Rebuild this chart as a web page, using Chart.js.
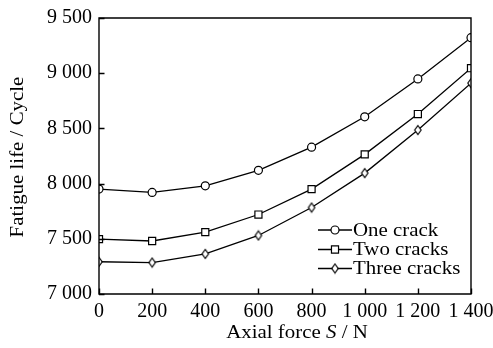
<!DOCTYPE html>
<html>
<head>
<meta charset="utf-8">
<script src="https://cdn.jsdelivr.net/npm/chart.js@4/dist/chart.umd.min.js"></script>
<style>
html,body{margin:0;padding:0;background:#fff;}
#wrap{width:493px;height:348px;position:relative;}
</style>
</head>
<body>
<div id="wrap"><canvas id="c"></canvas></div>
<script>
const axialForce = [0, 200, 400, 600, 800, 1000, 1200, 1400];
const oneCrack = [7950, 7920, 7980, 8120, 8330, 8605, 8948, 9322];
const twoCracks = [7497, 7480, 7560, 7720, 7950, 8265, 8630, 9045];
const threeCracks = [7292, 7285, 7363, 7530, 7783, 8095, 8485, 8910];
const seriesLabels = ['One crack', 'Two cracks', 'Three cracks'];
const xTicks = [0, 200, 400, 600, 800, 1000, 1200, 1400];
const yTicks = [7000, 7500, 8000, 8500, 9000, 9500];

const FONT = '"Liberation Serif", "Times New Roman", serif';
const SX = 1.1; // horizontal stretch for hand-drawn text

function fmt(v){
  v = Math.round(v);
  if (v >= 1000) {
    const s = String(v);
    return s.slice(0, s.length-3) + ' ' + s.slice(-3);
  }
  return String(v);
}

function makeDiamond(){
  const c = document.createElement('canvas');
  c.width = 10; c.height = 12;
  const g = c.getContext('2d');
  g.beginPath();
  g.moveTo(5, 1.5); g.lineTo(8.2, 6); g.lineTo(5, 10.5); g.lineTo(1.8, 6); g.closePath();
  g.fillStyle = '#fff'; g.fill();
  g.lineWidth = 1.2; g.strokeStyle = '#000'; g.stroke();
  return c;
}
const diamond = makeDiamond();

function toPts(arr){ return axialForce.map((x,i)=>({x:x, y:arr[i]})); }

const styles = [
  {pointStyle:'circle', pointRadius:4},
  {pointStyle:'rect', pointRadius:5},
  {pointStyle:diamond, pointRadius:5}
];

const datasets = [oneCrack, twoCracks, threeCracks].map((arr,i)=>({
  label: seriesLabels[i],
  data: toPts(arr),
  borderColor:'#000',
  borderWidth:1.3,
  backgroundColor:'#fff',
  pointBackgroundColor:'#fff',
  pointBorderColor:'#000',
  pointBorderWidth:1.2,
  pointStyle: styles[i].pointStyle,
  pointRadius: styles[i].pointRadius,
  tension:0
}));

function stretchedText(ctx, text, x, y, align){
  ctx.save();
  ctx.translate(x, y);
  ctx.scale(SX, 1);
  ctx.textAlign = align;
  ctx.fillText(text, 0, 0);
  ctx.restore();
}

const framePlugin = {
  id:'frame',
  afterDraw(chart){
    const ctx = chart.ctx, a = chart.chartArea;
    const xs = chart.scales.x, ys = chart.scales.y;
    ctx.save();
    ctx.strokeStyle = '#000';
    ctx.lineWidth = 1.4;
    ctx.beginPath();
    ctx.rect(a.left, a.top, a.right - a.left, a.bottom - a.top);
    ctx.stroke();
    // inward ticks
    ctx.beginPath();
    xTicks.forEach(v=>{
      const px = Math.round(xs.getPixelForValue(v)) + 0.5;
      ctx.moveTo(px, a.bottom); ctx.lineTo(px, a.bottom - 5.5);
    });
    yTicks.forEach(v=>{
      const py = Math.round(ys.getPixelForValue(v)) + 0.5;
      ctx.moveTo(a.left, py); ctx.lineTo(a.left + 5.5, py);
    });
    ctx.stroke();

    // axis titles
    ctx.fillStyle = '#000';
    ctx.textBaseline = 'middle';
    const p1 = 'Axial force ', p2 = 'S', p3 = ' / N';
    ctx.font = '19px ' + FONT; const w1 = ctx.measureText(p1).width * SX;
    ctx.font = 'italic 19px ' + FONT; const w2 = ctx.measureText(p2).width * SX;
    ctx.font = '19px ' + FONT; const w3 = ctx.measureText(p3).width * SX;
    let x0 = 297 - (w1+w2+w3)/2;
    const yT = 333;
    ctx.font = '19px ' + FONT; stretchedText(ctx, p1, x0, yT, 'left');
    ctx.font = 'italic 19px ' + FONT; stretchedText(ctx, p2, x0 + w1, yT, 'left');
    ctx.font = '19px ' + FONT; stretchedText(ctx, p3, x0 + w1 + w2, yT, 'left');
    // y title
    ctx.save();
    ctx.translate(18, 157);
    ctx.rotate(-Math.PI/2);
    ctx.scale(SX, 1);
    ctx.textAlign = 'center';
    ctx.font = '19px ' + FONT;
    ctx.fillText('Fatigue life / Cycle', 0, 0);
    ctx.restore();

    // legend
    const rows = [230, 249.5, 268.5];
    chart.data.datasets.forEach((ds, i)=>{
      const y = rows[i];
      ctx.strokeStyle = '#000'; ctx.lineWidth = 1.3;
      ctx.beginPath(); ctx.moveTo(318, y); ctx.lineTo(352, y); ctx.stroke();
      const mx = 335;
      ctx.fillStyle = '#fff'; ctx.lineWidth = 1.2;
      if (i === 0) {
        ctx.beginPath(); ctx.arc(mx, y, 4, 0, Math.PI*2); ctx.fill(); ctx.stroke();
      } else if (i === 1) {
        const s = 5 * Math.SQRT1_2;
        ctx.beginPath(); ctx.rect(mx - s, y - s, 2*s, 2*s); ctx.fill(); ctx.stroke();
      } else {
        ctx.drawImage(diamond, mx - diamond.width/2, y - diamond.height/2);
      }
      ctx.fillStyle = '#000';
      ctx.font = '19px ' + FONT;
      ctx.textBaseline = 'middle';
      stretchedText(ctx, ds.label, 353, y + 1, 'left');
    });
    ctx.restore();
  }
};

new Chart(document.getElementById('c'), {
  type:'line',
  data:{datasets:datasets},
  plugins:[framePlugin],
  options:{
    responsive:true,
    maintainAspectRatio:false,
    animation:false,
    layout:{padding:{top:18, right:22, left:0, bottom:0}},
    plugins:{legend:{display:false}, tooltip:{enabled:false}},
    scales:{
      x:{
        type:'linear', min:0, max:1400,
        afterBuildTicks(s){ s.ticks = xTicks.map(v=>({value:v})); },
        afterFit(s){ s.height = 54; s.paddingLeft = 0; s.paddingRight = 0; },
        grid:{display:false, drawTicks:false},
        border:{display:false},
        ticks:{color:'#000', font:{family:FONT, size:20}, padding:6, maxRotation:0, autoSkip:false,
          callback:(v)=>fmt(v)}
      },
      y:{
        type:'linear', min:7000, max:9500,
        afterBuildTicks(s){ s.ticks = yTicks.map(v=>({value:v})); },
        afterFit(s){ s.width = 99; s.paddingTop = 0; s.paddingBottom = 0; },
        grid:{display:false, drawTicks:false},
        border:{display:false},
        ticks:{color:'#000', font:{family:FONT, size:20}, padding:7,
          callback:(v)=>fmt(v)}
      }
    }
  }
});
</script>
</body>
</html>
